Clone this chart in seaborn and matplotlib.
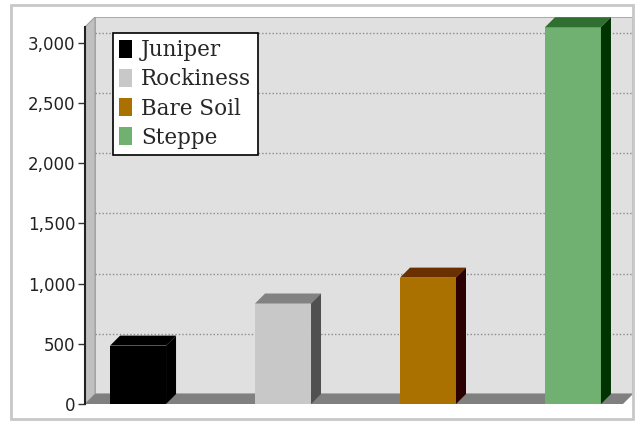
import matplotlib
matplotlib.use("Agg")
import matplotlib.pyplot as plt
from matplotlib.patches import Polygon, Rectangle, Patch
from matplotlib.ticker import StrMethodFormatter
import seaborn as sns
import pandas as pd

# values
categories = ["Juniper", "Rockiness", "Bare Soil", "Steppe"]
values = [485, 835, 1050, 3130]
front_colors = ["#000000", "#c8c8c8", "#aa7000", "#70b070"]
top_colors = ["#000000", "#828282", "#6a3000", "#2f6f30"]
side_colors = ["#000000", "#505050", "#2a0000", "#003300"]
yticks = [0, 500, 1000, 1500, 2000, 2500, 3000]

df = pd.DataFrame({"cover": categories, "area": values})

sns.set_style("white")
fig = plt.figure(figsize=(6.35, 4.21), dpi=100)
ax = fig.add_axes([85 / 635, 17 / 421, 548 / 635, 387 / 421])

xl, xr = -0.366, 3.414
ytop = 3215
dx, dy = 0.069, 83  # depth of the fake 3d box

sns.barplot(data=df, x="cover", y="area", hue="cover", palette=front_colors,
            width=0.386, saturation=1, legend=False, ax=ax)

# back wall, left wall and floor
ax.add_patch(Rectangle((xl + dx, dy), xr - xl - dx, ytop - dy, facecolor="#e0e0e0",
                       edgecolor="#a0a0a0", lw=1.2, zorder=0))
ax.add_patch(Polygon([(xl, 0), (xl + dx, dy), (xl + dx, ytop), (xl, ytop - dy)],
                     facecolor="#c0c0c0", edgecolor="#a0a0a0", lw=0.8, zorder=0.5))
ax.add_patch(Polygon([(xl, 0), (xr - dx, 0), (xr, dy), (xl + dx, dy)],
                     facecolor="#808080", edgecolor="none", zorder=0.8))
for v in yticks[1:]:
    ax.plot([xl + dx, xr], [v + dy, v + dy], ls=(0, (1, 1.5)), color="#8c8c8c",
            lw=1, zorder=0.6)

# tops and sides of each bar
for bar, tc, sc in zip(ax.patches, top_colors, side_colors):
    bar.set_zorder(2)
    bar.set_edgecolor("none")
    x0, w, h = bar.get_x(), bar.get_width(), bar.get_height()
    ax.add_patch(Polygon([(x0, h), (x0 + dx, h + dy), (x0 + w + dx, h + dy), (x0 + w, h)],
                         facecolor=tc, edgecolor="none", zorder=2))
    ax.add_patch(Polygon([(x0 + w, 0), (x0 + w + dx, dy), (x0 + w + dx, h + dy), (x0 + w, h)],
                         facecolor=sc, edgecolor="none", zorder=2))

ax.set_xlim(xl, xr)
ax.set_ylim(0, ytop)
ax.set_xticks([])
ax.set_xlabel("")
ax.set_ylabel("")
ax.set_yticks(yticks)
ax.yaxis.set_major_formatter(StrMethodFormatter("{x:,.0f}"))
ax.tick_params(axis="y", left=True, length=5, width=1, color="#333333", pad=2,
               labelsize=12, labelcolor="#222222")
for lab in ax.get_yticklabels():
    lab.set_fontfamily("DejaVu Sans")
for s in ["top", "right", "bottom"]:
    ax.spines[s].set_visible(False)
ax.spines["left"].set_color("#222222")
ax.spines["left"].set_linewidth(1.5)
ax.spines["left"].set_bounds(0, ytop - dy)
ax.patch.set_alpha(0)

handles = [Patch(facecolor=c, edgecolor="none", label=n) for c, n in zip(front_colors, categories)]
leg = ax.legend(handles=handles, loc="upper left", bbox_to_anchor=(0.051, 0.959),
                borderaxespad=0, fancybox=False, edgecolor="black", framealpha=1,
                handlelength=0.6, handleheight=0.9, handletextpad=0.4, labelspacing=0.33,
                borderpad=0.3, prop={"family": "DejaVu Serif", "size": 15.5})
leg.get_frame().set_linewidth(1.2)
leg.set_zorder(5)

# light frame around the whole chart
fig.patches.append(Rectangle((11 / 635, 2 / 421), 622 / 635, 414 / 421, transform=fig.transFigure,
                             fill=False, edgecolor="#c8c8c8", lw=2))

fig.savefig("out.png", dpi=100)
